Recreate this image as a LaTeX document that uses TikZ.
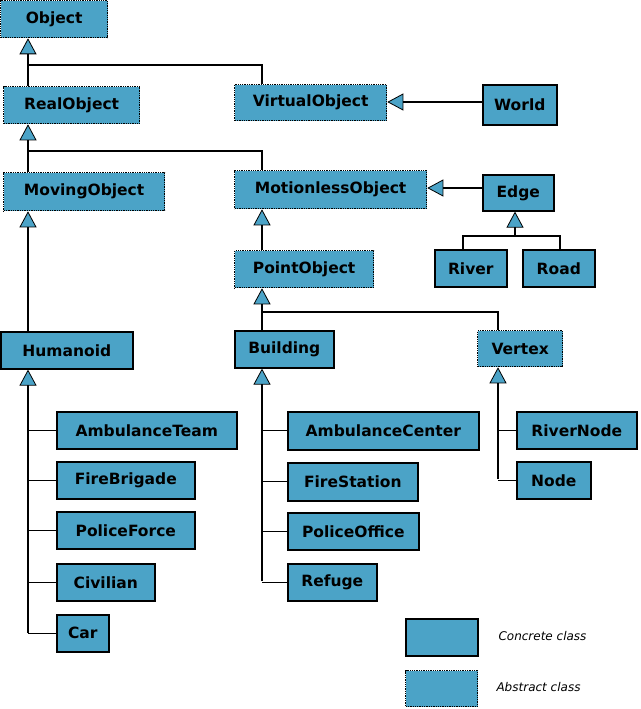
\documentclass[tikz,border=0pt]{standalone}
\usepackage{fontspec}
\setmainfont{DejaVu Sans}
\usetikzlibrary{arrows.meta}
\definecolor{cb}{HTML}{4BA3C7}
\begin{document}
\begin{tikzpicture}[x=1pt,y=-1pt,
 box/.style={fill=cb, inner sep=0pt, anchor=north west, font=\bfseries\fontsize{15.5}{18}\selectfont},
 conc/.style={box, draw, line width=1.6pt},
 abs/.style={box, draw, densely dotted, line width=1.3pt},
 ln/.style={line width=1.3pt},
 inh/.style={ln, -{Triangle[width=17pt,length=16pt,fill=cb,line width=0.8pt]}},
 leg/.style={anchor=west, font=\itshape\fontsize{12}{14}\selectfont}]
\useasboundingbox (0,0) rectangle (640,709);
\newcommand\bx[6]{\node[#1, minimum width=#4-#2, minimum height=#5-#3] (#6) at (#2,#3) {#6};}
\bx{abs}{0}{0}{107}{37}{Object}
\bx{abs}{3}{86}{139}{123}{RealObject}
\bx{abs}{234}{84}{386}{120}{VirtualObject}
\bx{conc}{482}{84}{556}{124}{World}
\bx{abs}{3}{172}{164}{210}{MovingObject}
\bx{abs}{234}{170}{426}{208}{MotionlessObject}
\bx{conc}{482}{174}{553}{210}{Edge}
\bx{conc}{434}{249}{506}{286}{River}
\bx{conc}{522}{249}{594}{286}{Road}
\bx{abs}{234}{250}{373}{287}{PointObject}
\bx{conc}{0}{331}{132}{368}{Humanoid}
\bx{conc}{234}{330}{333}{367}{Building}
\bx{abs}{477}{330}{562}{366}{Vertex}
\bx{conc}{56}{411}{236}{448}{AmbulanceTeam}
\bx{conc}{56}{461}{194}{498}{FireBrigade}
\bx{conc}{56}{511}{194}{548}{PoliceForce}
\bx{conc}{56}{563}{154}{600}{Civilian}
\bx{conc}{56}{614}{108}{651}{Car}
\bx{conc}{287}{411}{478}{449}{AmbulanceCenter}
\bx{conc}{287}{462}{417}{500}{FireStation}
\bx{conc}{287}{512}{418}{549}{PoliceOffice}
\bx{conc}{287}{563}{376}{600}{Refuge}
\bx{conc}{516}{411}{636}{448}{RiverNode}
\bx{conc}{516}{461}{590}{498}{Node}
\node[conc, minimum width=72, minimum height=37] (lc) at (405,618) {};
\node[abs, minimum width=72, minimum height=36] (la) at (405,670) {};
\node[leg] (tc) at (495,636) {Concrete class};
\node[leg] (ta) at (493,687) {Abstract class};
% Object
\draw[inh] (28,86) |- (28,65) -- (Object.south -| 28,0);
\draw[ln] (28,65) -| (VirtualObject.north -| 262,0);
% RealObject
\draw[inh] (28,172) -- (RealObject.south -| 28,0);
\draw[ln] (28,151) -| (MotionlessObject.north -| 262,0);
% MovingObject
\draw[inh] (Humanoid.north -| 28,0) -- (MovingObject.south -| 28,0);
% World, Edge
\draw[inh] (World.west |- 0,102) -- (VirtualObject.east |- 0,102);
\draw[inh] (Edge.west |- 0,188) -- (MotionlessObject.east |- 0,188);
% River Road
\draw[inh] (515,236) -- (Edge.south -| 515,0);
\draw[ln] (River.north -| 463,0) |- (560,236) -- (Road.north -| 560,0);
% PointObject
\draw[inh] (PointObject.north -| 262,0) -- (MotionlessObject.south -| 262,0);
\draw[inh] (Building.north -| 262,0) -- (PointObject.south -| 262,0);
\draw[ln] (262,312) -| (Vertex.north -| 498,0);
% Humanoid children
\draw[inh] (28,633) -- (Humanoid.south -| 28,0);
\foreach \n in {AmbulanceTeam,FireBrigade,PoliceForce,Civilian,Car}
  \draw[ln] (\n.west) -- (\n.west -| 28,0);
\draw[inh] (262,581) -- (Building.south -| 262,0);
\foreach \n in {AmbulanceCenter,FireStation,PoliceOffice,Refuge}
  \draw[ln] (\n.west) -- (\n.west -| 262,0);
\draw[inh] (498,479) -- (Vertex.south -| 498,0);
\foreach \n in {RiverNode,Node}
  \draw[ln] (\n.west) -- (\n.west -| 498,0);
\end{tikzpicture}
\end{document}
